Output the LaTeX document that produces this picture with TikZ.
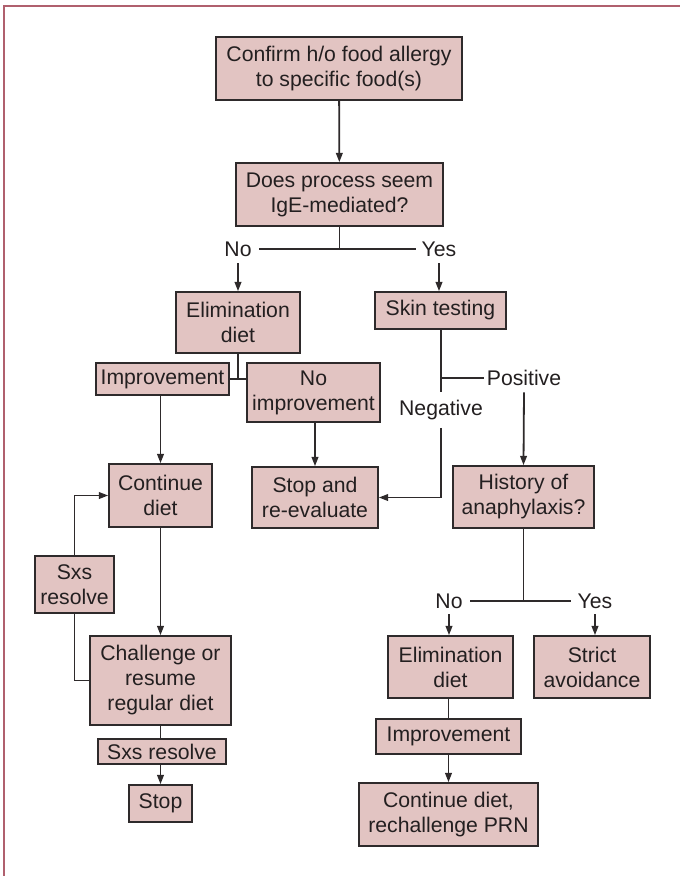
\documentclass[tikz,border=0pt]{standalone}
\usepackage{fontspec}
\setmainfont{Liberation Sans}
\usetikzlibrary{arrows.meta}
\definecolor{boxfill}{HTML}{E2C4C2}
\definecolor{boxline}{HTML}{2E2A2B}
\definecolor{inkcol}{HTML}{231F20}
\definecolor{framecol}{HTML}{B0606E}
\begin{document}
\begin{tikzpicture}[x=0.75pt,y=-0.75pt,
  every node/.style={text=inkcol, font=\fontsize{15.9pt}{18.75pt}\selectfont},
  box/.style={draw=boxline, fill=boxfill, line width=1.25pt, align=center, inner sep=0pt},
  wh/.style 2 args={minimum width=#1*0.75pt, minimum height=#2*0.75pt},
  lbl/.style={inner sep=0pt},
  conn/.style={draw=boxline, line width=1.35pt},
  arr/.style={conn, -{Triangle[length=7pt,width=5pt]}}]
\useasboundingbox (0,0) rectangle (680,876);
% frame
\draw[framecol, line width=1.5pt] (4,876) -- (4,5.5) -- (680,5.5);

% boxes
\node[box, wh={246}{63}] (confirm) at (339,68.5) {Confirm h/o food allergy\\to specific food(s)};
\node[box, wh={207}{63}] (ige) at (339.5,194.5) {Does process seem\\IgE-mediated?};
\node[box, wh={124}{61}] (elimA) at (238,322.5) {Elimination\\diet};
\node[box, wh={131}{37}] (skin) at (440.5,310.5) {Skin testing};
\node[box, wh={133}{32}] (imprA) at (162.5,379) {Improvement};
\node[box, wh={133}{59}] (noimpr) at (313.5,392.5) {No\\improvement};
\node[box, wh={103}{63}] (cont) at (160.5,495.5) {Continue\\diet};
\node[box, wh={126}{61}] (stopre) at (315,497.5) {Stop and\\re-evaluate};
\node[box, wh={141}{62}] (hist) at (523.5,497) {History of\\anaphylaxis?};
\node[box, wh={79}{57}] (sxsA) at (74.5,584.5) {Sxs\\resolve};
\node[box, wh={141}{89}] (chal) at (160.5,680.5) {Challenge or\\resume\\regular diet};
\node[box, wh={128}{25}] (sxsB) at (162,751.5) {Sxs resolve};
\node[box, wh={63}{37}] (stop) at (160.5,803.5) {Stop};
\node[box, wh={125}{62}] (elimB) at (450.5,667) {Elimination\\diet};
\node[box, wh={116}{62}] (strict) at (592,667) {Strict\\avoidance};
\node[box, wh={145}{35}] (imprB) at (448.5,736.5) {Improvement};
\node[box, wh={179}{63}] (contre) at (448.5,814.5) {Continue diet,\\rechallenge PRN};

% branch labels
\node[lbl, wh={42}{28}] (noA) at (238,249) {No};
\node[lbl, wh={46}{28}] (yesA) at (439,249) {Yes};
\node[lbl, wh={60}{35}] (neg) at (441,410) {Negative};
\node[lbl, wh={80}{28}] (pos) at (524,378) {Positive};
\node[lbl, wh={42}{26}] (noB) at (449,601) {No};
\node[lbl, wh={48}{26}] (yesB) at (595,601) {Yes};

% main trunk
\draw[arr] (confirm) -- (ige);
\draw[conn] (ige.south) -- (ige.south |- noA.east);
\draw[conn] (noA.east) -- (yesA.west);
\draw[arr] (noA.south) -- (noA.south |- elimA.north);
\draw[arr] (yesA.south) -- (yesA.south |- skin.north);

% non-IgE path
\draw[conn] (elimA.south) -- (elimA.south |- imprA.east);
\draw[conn] (imprA.east) -- (noimpr.west |- imprA.east);
\draw[arr] (cont.north |- imprA.south) -- (cont.north);
\draw[arr] (stopre.north |- noimpr.south) -- (stopre.north);
\draw[arr] (cont.south) -- (chal.north);
\draw[conn] (chal.west) -| (sxsA.south);
\draw[arr] (sxsA.north) |- (cont.west);
\draw[conn] (chal.south) -- (chal.south |- sxsB.north);
\draw[arr] (stop.north |- sxsB.south) -- (stop.north);

% skin testing results
\draw[conn] (neg.north |- skin.south) -- (neg.north);
\draw[arr] (neg.south) |- (stopre.east);
\draw[conn] (neg.north |- pos.west) -- (pos.west);
\draw[arr] (pos.south) -- (hist.north);

% anaphylaxis branch
\draw[conn] (hist.south) -- (hist.south |- noB.east);
\draw[conn] (noB.east) -- (yesB.west);
\draw[arr] (noB.south) -- (noB.south |- elimB.north);
\draw[arr] (yesB.south) -- (yesB.south |- strict.north);
\draw[conn] (imprB.north |- elimB.south) -- (imprB.north);
\draw[arr] (imprB.south) -- (contre.north);
\end{tikzpicture}
\end{document}
